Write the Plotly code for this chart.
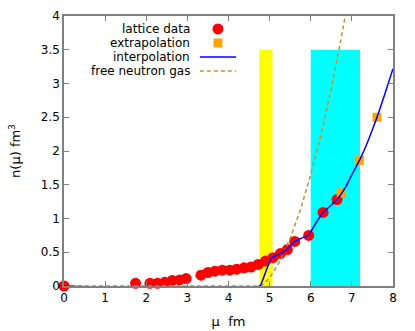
import plotly.graph_objects as go

# lattice data points
mu_lattice = [0.0, 1.74, 2.09, 2.27, 2.45, 2.63, 2.81, 2.97, 3.33, 3.50, 3.67, 3.85,
              4.03, 4.20, 4.38, 4.55, 4.72, 4.90, 5.08, 5.26, 5.43, 5.61, 5.95, 6.30, 6.64]
n_lattice = [0.0, 0.04, 0.04, 0.04, 0.055, 0.08, 0.09, 0.11, 0.16, 0.20, 0.22, 0.235,
             0.235, 0.25, 0.27, 0.28, 0.32, 0.37, 0.42, 0.48, 0.54, 0.66, 0.75, 1.09, 1.28]

# extrapolated points
mu_extra = [6.74, 7.18, 7.61]
n_extra = [1.38, 1.86, 2.50]

# interpolation curve
mu_interp = [0.0, 4.76, 4.85, 5.05, 5.26, 5.43, 5.61, 5.78, 5.95, 6.12, 6.30, 6.50,
             6.65, 6.85, 7.0, 7.2, 7.4, 7.6, 7.8, 8.0]
n_interp = [0.0, 0.0, 0.12, 0.42, 0.48, 0.55, 0.66, 0.71, 0.76, 0.93, 1.09, 1.20,
            1.29, 1.47, 1.65, 1.88, 2.16, 2.48, 2.84, 3.22]

# free neutron gas curve
mu_gas = [0.0, 4.75, 4.85, 5.0, 5.25, 5.5, 5.75, 6.0, 6.25, 6.5, 6.75, 6.85]
n_gas = [0.0, 0.0, 0.027, 0.12, 0.37, 0.71, 1.13, 1.65, 2.24, 2.93, 3.70, 4.04]

# shaded bands (mu ranges) and their height
bands_yellow = (4.75, 5.07)
bands_cyan = (6.00, 7.20)
band_top = 3.5

legend_names = ["lattice data", "extrapolation", "interpolation", "free neutron gas"]

FONT = "DejaVu Sans"
AXIS_COLOR = "#808080"
GAS_COLOR = "#c8902a"

fig = go.Figure()

fig.add_trace(go.Scatter(x=mu_lattice, y=n_lattice, mode="markers",
                         marker=dict(symbol="circle", size=11, color="#ff0000"),
                         cliponaxis=False, name=legend_names[0]))
fig.add_trace(go.Scatter(x=mu_extra, y=n_extra, mode="markers",
                         marker=dict(symbol="square", size=9, color="#ffa500"),
                         cliponaxis=False, name=legend_names[1]))
fig.add_trace(go.Scatter(x=mu_gas, y=n_gas, mode="lines",
                         line=dict(color=GAS_COLOR, width=1.5, dash="4px,3px"),
                         name=legend_names[3]))
fig.add_trace(go.Scatter(x=mu_interp, y=n_interp, mode="lines",
                         line=dict(color="#0000ff", width=1.5, shape="spline", smoothing=0.5),
                         cliponaxis=False, name=legend_names[2]))

shapes = []
for (x0, x1), col in [(bands_yellow, "#ffff00"), (bands_cyan, "#00ffff")]:
    shapes.append(dict(type="rect", xref="x", yref="y", x0=x0, x1=x1, y0=0, y1=band_top,
                       fillcolor=col, line=dict(width=0), layer="below"))

# legend drawn top-centre with symbols on the right, gnuplot style
text_x = 0.389
sym_x = 0.468
rows = [0.952, 0.900, 0.848, 0.796]
annotations = []
for name, yy in zip(legend_names, rows):
    annotations.append(dict(x=text_x, y=yy, xref="paper", yref="paper", text=name,
                            showarrow=False, xanchor="right", yanchor="middle",
                            font=dict(family=FONT, size=12, color="black")))
shapes.append(dict(type="circle", xref="paper", yref="paper", xsizemode="pixel", ysizemode="pixel",
                   xanchor=sym_x, yanchor=rows[0], x0=-5.5, x1=5.5, y0=-5.5, y1=5.5,
                   fillcolor="#ff0000", line=dict(width=0)))
shapes.append(dict(type="rect", xref="paper", yref="paper", xsizemode="pixel", ysizemode="pixel",
                   xanchor=sym_x, yanchor=rows[1], x0=-4.5, x1=4.5, y0=-4.5, y1=4.5,
                   fillcolor="#ffa500", line=dict(width=0)))
shapes.append(dict(type="line", xref="paper", yref="paper", x0=0.413, x1=0.523, y0=rows[2], y1=rows[2],
                   line=dict(color="#0000ff", width=1.5)))
shapes.append(dict(type="line", xref="paper", yref="paper", x0=0.413, x1=0.523, y0=rows[3], y1=rows[3],
                   line=dict(color=GAS_COLOR, width=1.5, dash="4px,3px")))

axis_common = dict(showgrid=False, zeroline=False, showline=True, linecolor=AXIS_COLOR, linewidth=1.5,
                   mirror="allticks", ticks="inside", ticklen=5, tickcolor=AXIS_COLOR, tickwidth=1,
                   automargin=False, tickfont=dict(family=FONT, size=12, color="black"))

fig.update_layout(
    width=415, height=331,
    margin=dict(l=64, r=22, t=16, b=45),
    paper_bgcolor="white", plot_bgcolor="white",
    showlegend=False,
    shapes=shapes, annotations=annotations,
    font=dict(family=FONT, size=12, color="black"),
    xaxis=dict(range=[0, 8], dtick=1, tick0=0,
               title=dict(text="μ  fm", font=dict(family=FONT, size=13), standoff=13),
               **axis_common),
    yaxis=dict(range=[0, 4], dtick=0.5, tick0=0,
               title=dict(text="n(μ) fm<sup>3</sup>", font=dict(family=FONT, size=13), standoff=17),
               **axis_common),
)

fig.write_html("out.html", config={"displayModeBar": False},
               post_script="document.body.style.margin='0';")
